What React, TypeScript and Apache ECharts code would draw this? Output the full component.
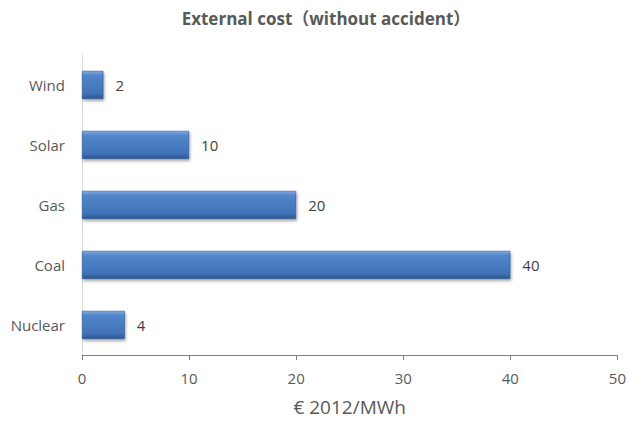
import React, { useEffect, useRef } from "react";
import * as echarts from "echarts";

const categories = ["Nuclear", "Coal", "Gas", "Solar", "Wind"];
const values = [4, 40, 20, 10, 2];
const xTicks = [0, 10, 20, 30, 40, 50];

export default function App() {
  const ref = useRef<HTMLDivElement>(null);
  useEffect(() => {
    if (!ref.current) return;
    const chart = echarts.init(ref.current, null, { renderer: "svg" });
    chart.setOption({
      animation: false,
      backgroundColor: "#ffffff",
      title: {
        text: "External cost（without accident）",
        left: 321,
        textAlign: "center",
        top: 5,
        textStyle: {
          fontFamily: "Open Sans, Noto Sans CJK SC, sans-serif",
          fontSize: 17,
          fontWeight: "bold",
          color: "#595959",
        },
      },
      grid: { left: 82, right: 9, top: 55, bottom: 64, containLabel: false },
      xAxis: {
        type: "value",
        min: xTicks[0],
        max: xTicks[xTicks.length - 1],
        interval: 10,
        name: "€ 2012/MWh",
        nameLocation: "middle",
        nameGap: 42,
        nameTextStyle: { fontFamily: "Open Sans, sans-serif", fontSize: 19, color: "#595959" },
        axisLine: { show: true, lineStyle: { color: "#7f7f7f", width: 1 } },
        axisTick: { show: true, length: 5, lineStyle: { color: "#7f7f7f" } },
        axisLabel: { fontFamily: "Open Sans, sans-serif", fontSize: 15, color: "#595959", margin: 15 },
        splitLine: { show: false },
      },
      yAxis: {
        type: "category",
        data: categories,
        axisLine: { show: true, lineStyle: { color: "#d9d9d9", width: 1 } },
        axisTick: { show: false },
        axisLabel: { fontFamily: "Open Sans, sans-serif", fontSize: 15, color: "#595959", margin: 17 },
      },
      series: [
        {
          type: "bar",
          data: values,
          barWidth: "47%",
          itemStyle: {
            color: new echarts.graphic.LinearGradient(0, 0, 0, 1, [
              { offset: 0, color: "#82aae0" },
              { offset: 0.15, color: "#5286cb" },
              { offset: 0.8, color: "#4072b8" },
              { offset: 1, color: "#2c5590" },
            ]),
            borderColor: "#2f5a94",
            borderWidth: 0.6,
            shadowColor: "rgba(0,0,0,0.35)",
            shadowBlur: 3,
            shadowOffsetX: 1,
            shadowOffsetY: 2,
          },
          label: {
            show: true,
            position: "right",
            distance: 12,
            fontFamily: "Open Sans, sans-serif",
            fontSize: 15,
            color: "#404040",
          },
        },
      ],
    });
    return () => chart.dispose();
  }, []);
  return (
    <div
      ref={ref}
      style={{ position: "fixed", left: 0, top: 0, width: 629, height: 421 }}
    />
  );
}
